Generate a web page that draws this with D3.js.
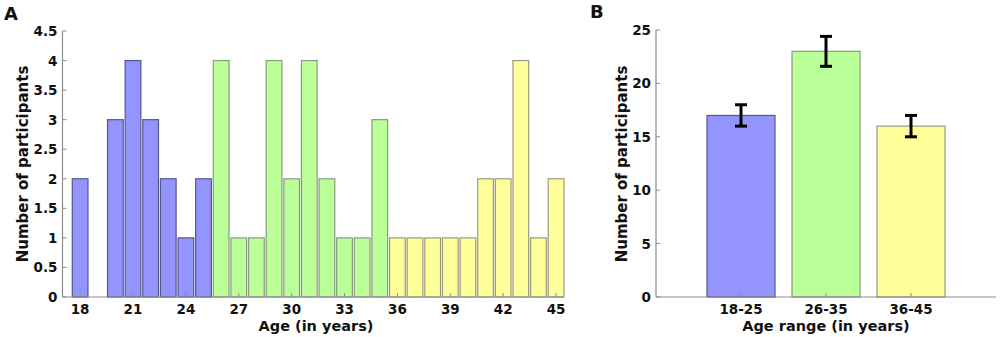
<!DOCTYPE html>
<html>
<head>
<meta charset="utf-8">
<script src="https://cdn.jsdelivr.net/npm/d3@7"></script>
<style>
	body { margin: 0; background: #fff; }
	svg text { font-family: "DejaVu Sans", sans-serif; font-weight: bold; fill: #111; }
</style>
</head>
<body>
<svg id="chart" width="1000" height="337"></svg>
<script>
// panel A: participants per age
var ages = d3.range(18, 46)
var counts = [2, 0, 3, 4, 3, 2, 1, 2, 4, 1, 1, 4, 2, 4, 2, 1, 1, 3, 1, 1, 1, 1, 1, 2, 2, 4, 1, 2]
var ageTicks = [18, 21, 24, 27, 30, 33, 36, 39, 42, 45]
var countTicks = [0, 0.5, 1, 1.5, 2, 2.5, 3, 3.5, 4, 4.5]

// panel B: participants per age range
var groups = ['18-25', '26-35', '36-45']
var groupTotals = [17, 23, 16]
var groupErrors = [1, 1.4, 1]
var totalTicks = [0, 5, 10, 15, 20, 25]

var fills = ['#9494ff', '#bbff99', '#ffff99']
var strokes = ['#55558a', '#8a9a80', '#9a9a80']

function groupOf(age) {
	if (age <= 25) return 0
	if (age <= 35) return 1
	return 2
}

var svg = d3.select('#chart')

function translate(x, y) {
	return 'translate(' + x + ',' + y + ')'
}

// little helper to draw matlab-ish axes (ticks pointing inward)
function drawAxes(g, x, y, xTicks, yTicks, xFmt, yFmt, x0, x1) {
	var y0 = y.range()[0]
	g.append('line')
		.attr('x1', x0).attr('x2', x1)
		.attr('y1', y0).attr('y2', y0)
		.attr('stroke', '#8c8c8c').attr('stroke-width', 1.2)
	g.append('line')
		.attr('x1', x0).attr('x2', x0)
		.attr('y1', y0).attr('y2', y.range()[1])
		.attr('stroke', '#8c8c8c').attr('stroke-width', 1.2)

	g.selectAll('.xt').data(xTicks).enter().append('line')
		.attr('x1', x).attr('x2', x)
		.attr('y1', y0).attr('y2', y0 - 4)
		.attr('stroke', '#8c8c8c')
	g.selectAll('.xl').data(xTicks).enter().append('text')
		.attr('x', x).attr('y', y0 + 17)
		.attr('text-anchor', 'middle')
		.style('font-size', '13.5px')
		.text(xFmt)

	g.selectAll('.yt').data(yTicks).enter().append('line')
		.attr('x1', x0).attr('x2', x0 + 4)
		.attr('y1', y).attr('y2', y)
		.attr('stroke', '#8c8c8c')
	g.selectAll('.yl').data(yTicks).enter().append('text')
		.attr('x', x0 - 5).attr('y', function(d) { return y(d) + 5 })
		.attr('text-anchor', 'end')
		.style('font-size', '13.5px')
		.text(yFmt)
}

// ---- panel A
var xA = d3.scaleLinear().domain([17, 45.45]).range([62.5, 564])
var yA = d3.scaleLinear().domain([0, 4.5]).range([297, 31])
var stepA = xA(19) - xA(18)
var barA = stepA * 0.89

var gA = svg.append('g')

gA.selectAll('.bar').data(counts).enter().append('rect')
	.attr('x', function(d, i) { return xA(ages[i]) - barA / 2 })
	.attr('y', function(d) { return yA(d) })
	.attr('width', barA)
	.attr('height', function(d) { return yA(0) - yA(d) })
	.attr('fill', function(d, i) { return fills[groupOf(ages[i])] })
	.attr('stroke', function(d, i) { return d > 0 ? strokes[groupOf(ages[i])] : 'none' })
	.attr('stroke-width', 1.2)

drawAxes(gA, xA, yA, ageTicks, countTicks, function(d) { return d }, function(d) { return d }, 62.5, 564)

gA.append('text')
	.attr('transform', translate(28, 164) + ' rotate(-90)')
	.attr('text-anchor', 'middle')
	.style('font-size', '15px')
	.text('Number of participants')
gA.append('text')
	.attr('x', 316).attr('y', 331)
	.attr('text-anchor', 'middle')
	.style('font-size', '14.5px')
	.text('Age (in years)')
gA.append('text')
	.attr('x', 4).attr('y', 20)
	.style('font-size', '18px')
	.text('A')

// ---- panel B
var xB = d3.scaleLinear().domain([0, 4]).range([656, 996])
var yB = d3.scaleLinear().domain([0, 25]).range([297, 30])
var barB = (xB(1) - xB(0)) * 0.8

var gB = svg.append('g')

gB.selectAll('.bar').data(groupTotals).enter().append('rect')
	.attr('x', function(d, i) { return xB(i + 1) - barB / 2 })
	.attr('y', function(d) { return yB(d) })
	.attr('width', barB)
	.attr('height', function(d) { return yB(0) - yB(d) })
	.attr('fill', function(d, i) { return fills[i] })
	.attr('stroke', function(d, i) { return strokes[i] })
	.attr('stroke-width', 1.2)

var err = gB.selectAll('.err').data(groupTotals).enter().append('g')
err.append('line')
	.attr('x1', function(d, i) { return xB(i + 1) }).attr('x2', function(d, i) { return xB(i + 1) })
	.attr('y1', function(d, i) { return yB(d - groupErrors[i]) })
	.attr('y2', function(d, i) { return yB(d + groupErrors[i]) })
	.attr('stroke', '#000').attr('stroke-width', 3)
;[-1, 1].forEach(function(s) {
	err.append('line')
		.attr('x1', function(d, i) { return xB(i + 1) - 6 }).attr('x2', function(d, i) { return xB(i + 1) + 6 })
		.attr('y1', function(d, i) { return yB(d + s * groupErrors[i]) })
		.attr('y2', function(d, i) { return yB(d + s * groupErrors[i]) })
		.attr('stroke', '#000').attr('stroke-width', 3)
})

drawAxes(gB, xB, yB, [1, 2, 3], totalTicks, function(d) { return groups[d - 1] }, function(d) { return d }, 656, 996)

gB.append('text')
	.attr('transform', translate(627, 164) + ' rotate(-90)')
	.attr('text-anchor', 'middle')
	.style('font-size', '15px')
	.text('Number of participants')
gB.append('text')
	.attr('x', 826).attr('y', 331)
	.attr('text-anchor', 'middle')
	.style('font-size', '14.5px')
	.text('Age range (in years)')
gB.append('text')
	.attr('x', 590).attr('y', 18)
	.style('font-size', '18px')
	.text('B')
</script>
</body>
</html>
